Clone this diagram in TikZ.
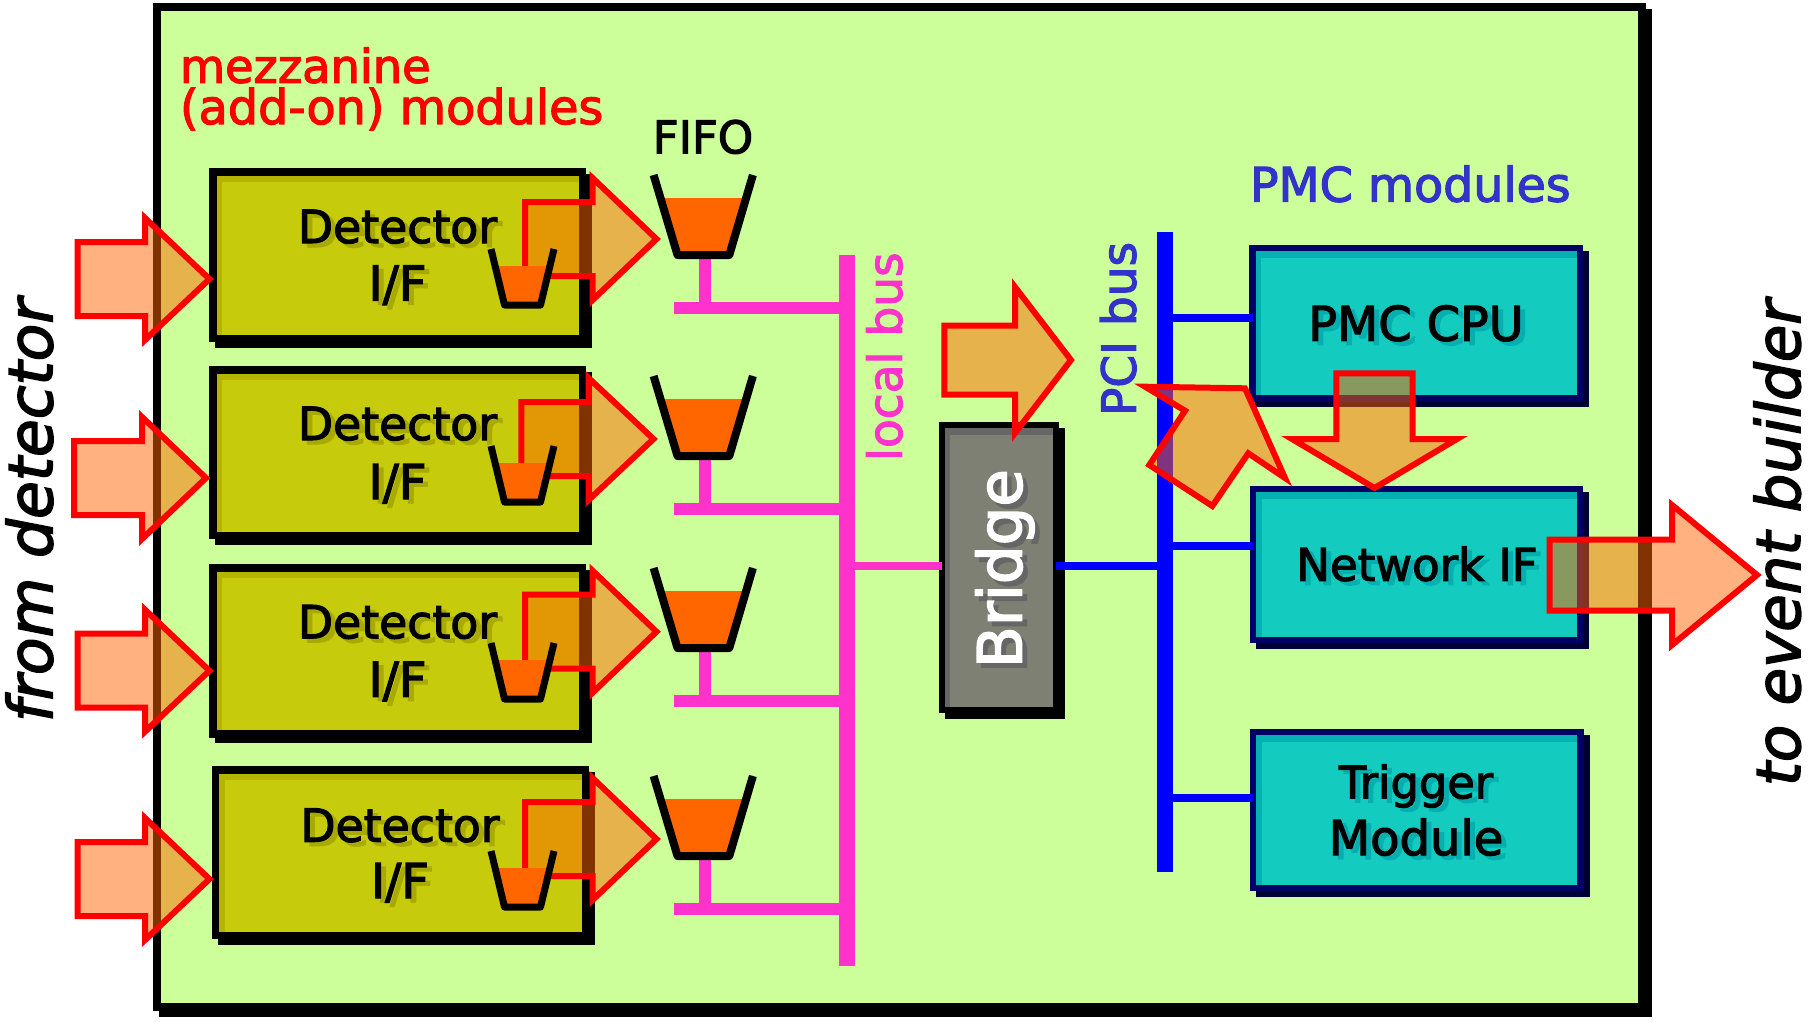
\documentclass[tikz,border=0pt]{standalone}
\usepackage{fontspec}
\setmainfont{DejaVu Sans}
\definecolor{boardfill}{HTML}{CCFF99}
\definecolor{flowfill}{HTML}{FF6600}
\definecolor{liquid}{HTML}{FF6600}
\definecolor{localpink}{HTML}{FF33CC}
\definecolor{pciblue}{HTML}{0000FF}
\definecolor{labelblue}{HTML}{3333CC}
\definecolor{det-fr}{HTML}{000000}
\definecolor{det-fi}{HTML}{C6CB0C}
\definecolor{det-ba}{HTML}{B5B500}
\definecolor{det-sh}{HTML}{000000}
\definecolor{det-tx}{HTML}{A8AA00}
\definecolor{pmc-fr}{HTML}{000066}
\definecolor{pmc-fi}{HTML}{13CBBE}
\definecolor{pmc-ba}{HTML}{05B0B0}
\definecolor{pmc-sh}{HTML}{000033}
\definecolor{pmc-tx}{HTML}{05AFAF}
\definecolor{brg-fr}{HTML}{000000}
\definecolor{brg-fi}{HTML}{7E8074}
\definecolor{brg-ba}{HTML}{666666}
\definecolor{brg-sh}{HTML}{000000}
\definecolor{brg-tx}{HTML}{666666}
\newcommand{\fsz}[1]{\fontsize{#1pt}{#1pt}\selectfont\addfontfeatures{FakeBold=2.5}}
\tikzset{
  flow/.style={draw=red,line width=6pt,fill=flowfill,fill opacity=.5,draw opacity=1,miter limit=12,line join=miter},
  label/.style={inner sep=0pt,outer sep=0pt},
  cupline/.style={draw=black,line join=round},
  local/.style={draw=localpink},
  pci/.style={draw=pciblue}
}
% name, x1, y1, x2, y2 (outer edges), colour prefix, frame width
\newcommand{\panel}[7]{%
  \fill[#6-sh] ({#2+6},{#3+6}) rectangle ({#4+6},{#5+5.5});
  \fill[#6-fi] (#2,#3) rectangle (#4,#5);
  \fill[#6-ba] (#2,#3) rectangle (#4,{#3+#7+6.5});
  \fill[#6-ba] (#2,#3) rectangle ({#2+#7+5.5},#5);
  \node[draw=#6-fr,line width=#7pt,inner sep=0pt,outer sep=0pt,
        minimum width={(#4-#2-#7)*1pt},minimum height={(#5-#3-#7)*1pt}]
        (#1) at ({(#2+#4)/2},{(#3+#5)/2}) {};
}
% text with drop shadow: name, x, y baseline centre, size, colour prefix, text
\newcommand{\shadowtext}[6]{%
  \node[label,anchor=base,text=#5-tx] at ({#2+5},{#3+4}) {\fsz{#4}#6};
  \node[label,anchor=base,text=black] (#1) at (#2,#3) {\fsz{#4}#6};
}
% left, base, tip, y-centre, body half, head half
\newcommand{\rarrow}[6]{%
  \draw[flow] (#1,{#4-#5}) -- (#2,{#4-#5}) -- (#2,{#4-#6}) -- (#3,#4) -- (#2,{#4+#6}) -- (#2,{#4+#5}) -- (#1,{#4+#5}) -- cycle;
}
% name, top y
\newcommand{\fifosmall}[2]{%
  \fill[liquid] (498,{#2+17}) -- (546,{#2+17}) -- (538,{#2+56}) -- (506,{#2+56}) -- cycle;
  \draw[cupline,line width=7pt] (491,#2) -- (504.5,{#2+56}) -- (540.5,{#2+56}) -- (554,#2);
  \coordinate (#1) at (522,{#2+56});
}
\newcommand{\fifolarge}[2]{%
  \fill[liquid] (663,{#2+23}) -- (743,{#2+23}) -- (729,{#2+80}) -- (677,{#2+80}) -- cycle;
  \draw[cupline,line width=8pt] (653.6,#2) -- (677.5,{#2+80}) -- (729.3,{#2+80}) -- (752.9,#2);
  \coordinate (#1) at (705,{#2+80});
}
\begin{document}
\begin{tikzpicture}[x=1pt,y=-1pt]
\useasboundingbox (0,0) rectangle (1820,1022);
% board
\fill[black] (159,9) rectangle (1651.5,1016.7);
\node[draw=black,fill=boardfill,line width=8pt,inner sep=0pt,outer sep=0pt,
      minimum width=1485pt,minimum height=999.7pt] (board) at (899.5,507.15) {};
% labels on the board
\node[label,anchor=base west,text=red] (mezz1) at (180,82.7) {\fsz{46.3}mezzanine};
\node[label,anchor=base west,text=red] (mezz2) at (180,124) {\fsz{47.7}(add-on) modules};
\node[label,anchor=base,text=black] (fifolabel) at (703,153.3) {\fsz{45}FIFO};
\node[label,anchor=base west,text=labelblue] (pmclabel) at (1250,201.6) {\fsz{47.5}PMC modules};
\node[label,anchor=base west,rotate=90,text=localpink] (locallabel) at (901.8,461) {\fsz{47}local bus};
\node[label,anchor=base west,rotate=90,text=labelblue] (pcilabel) at (1135.7,416) {\fsz{47}PCI bus};
\node[label,anchor=base west,rotate=90,text=black] (fromlabel) at (52.3,722) {\fsz{61.5}\itshape from detector};
\node[label,anchor=base west,rotate=90,text=black] (tolabel) at (1800,786) {\fsz{61}\itshape to event builder};
% bus coordinates
\coordinate (lbtop) at (846.6,255);
\coordinate (lbbot) at (846.6,965.7);
\coordinate (pcitop) at (1165,231.7);
\coordinate (pcibot) at (1165,871.7);
\coordinate (tapA) at (846.6,307.7);
\coordinate (tapB) at (846.6,508.7);
\coordinate (tapC) at (846.6,700.7);
\coordinate (tapD) at (846.6,909);
\coordinate (barA) at (674,307.7);
\coordinate (barB) at (674,508.7);
\coordinate (barC) at (674,700.7);
\coordinate (barD) at (674,909);
\coordinate (lbbridge) at (846.6,565.5);
\coordinate (pcibridge) at (1165,565.5);
\coordinate (pcipmc) at (1165,317.5);
\coordinate (pcinet) at (1165,545.5);
\coordinate (pcitrg) at (1165,798);
% panels on the right and the bridge
\panel{bridge}{938.5}{422}{1058.6}{713}{brg}{6}
\panel{pmccpu}{1249.4}{245}{1583}{401.7}{pmc}{6.3}
\panel{netif}{1250}{485.7}{1583}{643.3}{pmc}{6.3}
\panel{trigger}{1250}{729}{1583.5}{891}{pmc}{6.3}
% stems from the large FIFOs
\coordinate (bigA) at (705,255);
\coordinate (bigB) at (705,456);
\coordinate (bigC) at (705,648);
\coordinate (bigD) at (705,856);
\draw[local,line width=12pt] (bigA) -- (bigA |- barA);
\draw[local,line width=12pt] (bigB) -- (bigB |- barB);
\draw[local,line width=12pt] (bigC) -- (bigC |- barC);
\draw[local,line width=12pt] (bigD) -- (bigD |- barD);
\draw[local,line width=12pt] (barA) -- (tapA);
\draw[local,line width=12pt] (barB) -- (tapB);
\draw[local,line width=12pt] (barC) -- (tapC);
\draw[local,line width=12pt] (barD) -- (tapD);
\draw[local,line width=16pt] (lbtop) -- (lbbot);
\draw[local,line width=8pt] (lbbridge) -- (bridge.west |- lbbridge);
% PCI bus
\draw[pci,line width=16pt] (pcitop) -- (pcibot);
\draw[pci,line width=8pt] (pcibridge) -- (bridge.east |- pcibridge);
\draw[pci,line width=8pt] (pcipmc) -- (pmccpu.west |- pcipmc);
\draw[pci,line width=8pt] (pcinet) -- (netif.west |- pcinet);
\draw[pci,line width=8pt] (pcitrg) -- (trigger.west |- pcitrg);
% large FIFOs
\fifolarge{bigA}{175}
\fifolarge{bigB}{376}
\fifolarge{bigC}{568}
\fifolarge{bigD}{776}
% detector boxes
\panel{detA}{209}{168}{586}{342}{det}{7.5}
\panel{detB}{209}{366}{586}{539}{det}{7.5}
\panel{detC}{209}{564}{586}{737.7}{det}{7.5}
\panel{detD}{211.5}{766}{589}{939}{det}{7.5}
\shadowtext{detAa}{397.5}{243}{45.7}{det}{Detector}
\shadowtext{detAb}{397.5}{300.5}{48}{det}{I/F}
\shadowtext{detBa}{397.5}{440}{45.7}{det}{Detector}
\shadowtext{detBb}{397.5}{499}{48}{det}{I/F}
\shadowtext{detCa}{397.5}{638.3}{45.7}{det}{Detector}
\shadowtext{detCb}{397.5}{696.7}{48}{det}{I/F}
\shadowtext{detDa}{400}{841.7}{45.7}{det}{Detector}
\shadowtext{detDb}{400}{898}{48}{det}{I/F}
% module texts
\shadowtext{pmctext}{1416}{340.7}{47.7}{pmc}{PMC CPU}
\shadowtext{nettext}{1417}{580.7}{45}{pmc}{Network IF}
\shadowtext{trgtexta}{1416}{798.3}{44.7}{pmc}{Trigger}
\shadowtext{trgtextb}{1416}{855}{48}{pmc}{Module}
\node[label,anchor=base west,rotate=90,text=brg-tx] at (1026.3,673) {\fsz{61}Bridge};
\node[label,anchor=base west,rotate=90,text=white] (bridgetext) at (1021.7,668) {\fsz{61}Bridge};
% input arrows
\rarrow{77.5}{145}{209.5}{279}{37}{61}
\rarrow{74}{142}{206}{478}{37}{61}
\rarrow{77.5}{145}{209.5}{670.7}{37}{61}
\rarrow{77.5}{145}{209.5}{879}{37}{61}
% output arrows of the detector boxes
\rarrow{525}{592.6}{656.5}{239}{37}{61}
\rarrow{521.4}{588.6}{653.5}{439}{37}{61}
\rarrow{525}{592.6}{656.5}{631.7}{37}{61}
\rarrow{525}{592.6}{656.5}{839}{37}{61}
% small FIFOs
\fifosmall{smallA}{249}
\fifosmall{smallB}{446}
\fifosmall{smallC}{643}
\fifosmall{smallD}{851}
% large arrows
\rarrow{944.3}{1015}{1071}{360}{34.5}{73}
\draw[flow] (1145,386.7) -- (1245,388.3) -- (1285,478) -- (1248.3,453.3) -- (1212.3,506) -- (1149.3,465) -- (1185,410.7) -- cycle;
\draw[flow] (1336.4,373.3) -- (1412.7,373.3) -- (1412.7,439) -- (1457,439) -- (1374.5,488) -- (1292,439) -- (1336.4,439) -- cycle;
\rarrow{1549.6}{1672}{1757}{575}{35.5}{70}
\end{tikzpicture}
\end{document}
